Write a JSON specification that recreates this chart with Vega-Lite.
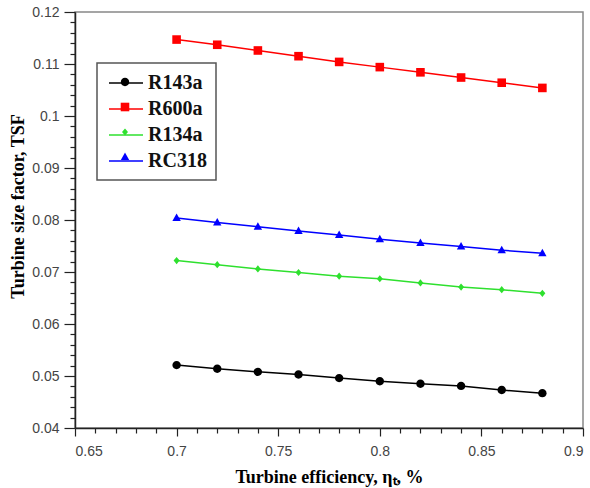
{
  "$schema": "https://vega.github.io/schema/vega-lite/v6.json",
  "width": 508,
  "height": 416,
  "autosize": {"type": "none"},
  "padding": {"left": 75, "top": 12, "right": 7, "bottom": 60},
  "background": "white",
  "config": {
    "view": {"stroke": "#888888", "strokeWidth": 1.5},
    "legend": {"labelFont": "Liberation Serif", "labelFontWeight": "bold", "labelFontSize": 20},
    "axis": {
      "grid": false,
      "domainColor": "#222222",
      "domainWidth": 1.5,
      "tickColor": "#222222",
      "tickWidth": 1.2,
      "labelFont": "Liberation Sans",
      "labelFontSize": 14,
      "labelColor": "#444444",
      "labelOverlap": false,
      "titleFont": "Liberation Serif",
      "titleFontSize": 18,
      "titleFontWeight": "bold",
      "titleColor": "#000000"
    }
  },
  "data": {
    "values": [
      {"eff": 0.70, "tsf": 0.0521, "fluid": "R143a"},
      {"eff": 0.72, "tsf": 0.0514, "fluid": "R143a"},
      {"eff": 0.74, "tsf": 0.0508, "fluid": "R143a"},
      {"eff": 0.76, "tsf": 0.0503, "fluid": "R143a"},
      {"eff": 0.78, "tsf": 0.0496, "fluid": "R143a"},
      {"eff": 0.80, "tsf": 0.0490, "fluid": "R143a"},
      {"eff": 0.82, "tsf": 0.0485, "fluid": "R143a"},
      {"eff": 0.84, "tsf": 0.0481, "fluid": "R143a"},
      {"eff": 0.86, "tsf": 0.0473, "fluid": "R143a"},
      {"eff": 0.88, "tsf": 0.0467, "fluid": "R143a"},
      {"eff": 0.70, "tsf": 0.1147, "fluid": "R600a"},
      {"eff": 0.72, "tsf": 0.1137, "fluid": "R600a"},
      {"eff": 0.74, "tsf": 0.1126, "fluid": "R600a"},
      {"eff": 0.76, "tsf": 0.1115, "fluid": "R600a"},
      {"eff": 0.78, "tsf": 0.1104, "fluid": "R600a"},
      {"eff": 0.80, "tsf": 0.1094, "fluid": "R600a"},
      {"eff": 0.82, "tsf": 0.1084, "fluid": "R600a"},
      {"eff": 0.84, "tsf": 0.1074, "fluid": "R600a"},
      {"eff": 0.86, "tsf": 0.1064, "fluid": "R600a"},
      {"eff": 0.88, "tsf": 0.1054, "fluid": "R600a"},
      {"eff": 0.70, "tsf": 0.0722, "fluid": "R134a"},
      {"eff": 0.72, "tsf": 0.0714, "fluid": "R134a"},
      {"eff": 0.74, "tsf": 0.0706, "fluid": "R134a"},
      {"eff": 0.76, "tsf": 0.0699, "fluid": "R134a"},
      {"eff": 0.78, "tsf": 0.0692, "fluid": "R134a"},
      {"eff": 0.80, "tsf": 0.0687, "fluid": "R134a"},
      {"eff": 0.82, "tsf": 0.0679, "fluid": "R134a"},
      {"eff": 0.84, "tsf": 0.0671, "fluid": "R134a"},
      {"eff": 0.86, "tsf": 0.0666, "fluid": "R134a"},
      {"eff": 0.88, "tsf": 0.0659, "fluid": "R134a"},
      {"eff": 0.70, "tsf": 0.0804, "fluid": "RC318"},
      {"eff": 0.72, "tsf": 0.0795, "fluid": "RC318"},
      {"eff": 0.74, "tsf": 0.0787, "fluid": "RC318"},
      {"eff": 0.76, "tsf": 0.0779, "fluid": "RC318"},
      {"eff": 0.78, "tsf": 0.0771, "fluid": "RC318"},
      {"eff": 0.80, "tsf": 0.0763, "fluid": "RC318"},
      {"eff": 0.82, "tsf": 0.0756, "fluid": "RC318"},
      {"eff": 0.84, "tsf": 0.0749, "fluid": "RC318"},
      {"eff": 0.86, "tsf": 0.0742, "fluid": "RC318"},
      {"eff": 0.88, "tsf": 0.0736, "fluid": "RC318"}
    ]
  },
  "encoding": {
    "x": {
      "field": "eff",
      "type": "quantitative",
      "scale": {"domain": [0.65, 0.9], "nice": false, "zero": false},
      "axis": {
        "title": "Turbine efficiency, ηₜ, %",
        "titleY": 54,
        "titleBaseline": "alphabetic",
        "values": [0.65, 0.66, 0.67, 0.68, 0.69, 0.7, 0.71, 0.72, 0.73, 0.74, 0.75, 0.76, 0.77, 0.78, 0.79, 0.8, 0.81, 0.82, 0.83, 0.84, 0.85, 0.86, 0.87, 0.88, 0.89, 0.9],
        "labelExpr": "abs(datum.value*20 - round(datum.value*20)) < 0.001 ? format(datum.value, '~g') : ''",
        "tickSize": {"condition": {"test": "abs(datum.value*20 - round(datum.value*20)) < 0.001", "value": 8}, "value": 5},
        "labelPadding": 8
      }
    },
    "y": {
      "field": "tsf",
      "type": "quantitative",
      "scale": {"domain": [0.04, 0.12], "nice": false, "zero": false},
      "axis": {
        "title": "Turbine size factor, TSF",
        "titleX": -52,
        "titleY": 194,
        "titleAngle": 270,
        "titleBaseline": "alphabetic",
        "titleAlign": "center",
        "values": [0.04, 0.042, 0.044, 0.046, 0.048, 0.05, 0.052, 0.054, 0.056, 0.058, 0.06, 0.062, 0.064, 0.066, 0.068, 0.07, 0.072, 0.074, 0.076, 0.078, 0.08, 0.082, 0.084, 0.086, 0.088, 0.09, 0.092, 0.094, 0.096, 0.098, 0.1, 0.102, 0.104, 0.106, 0.108, 0.11, 0.112, 0.114, 0.116, 0.118, 0.12],
        "labelExpr": "abs(datum.value*100 - round(datum.value*100)) < 0.001 ? format(datum.value, '~g') : ''",
        "tickSize": {"condition": {"test": "abs(datum.value*100 - round(datum.value*100)) < 0.001", "value": 11}, "value": 5},
        "labelPadding": 5
      }
    }
  },
  "layer": [
    {
      "mark": {"type": "line", "strokeWidth": 1.5},
      "encoding": {
        "color": {
          "field": "fluid",
          "type": "nominal",
          "scale": {"domain": ["R143a", "R600a", "R134a", "RC318"], "range": ["#000000", "#ff0000", "#2ee02e", "#0000ff"]},
          "legend": {
            "title": null,
            "orient": "none",
            "legendX": 22,
            "legendY": 51,
            "padding": 9,
            "rowPadding": 5,
            "symbolType": "M-1.7,0H1.7",
            "symbolSize": 400,
            "symbolOffset": 9,
            "symbolStrokeWidth": 1.5,
            "labelOffset": 11,
            "labelFont": "Liberation Serif",
            "labelFontWeight": "bold",
            "labelFontSize": 20,
            "labelColor": "#111111",
            "strokeColor": "#555555",
            "fillColor": "white",
            "encode": {
              "legend": {"update": {"strokeWidth": {"value": 1.5}}},
              "labels": {"update": {"font": {"value": "Liberation Serif"}, "fontWeight": {"value": "bold"}}}
            }
          }
        }
      }
    },
    {
      "mark": {"type": "point", "filled": true, "opacity": 1, "size": 400},
      "encoding": {
        "color": {
          "field": "fluid",
          "type": "nominal",
          "legend": {
            "title": null,
            "orient": "none",
            "legendX": 22,
            "legendY": 51,
            "padding": 9,
            "rowPadding": 5,
            "symbolSize": 400,
            "symbolOffset": 9,
            "symbolStrokeWidth": 0,
            "symbolOpacity": 1,
            "labelOffset": 11,
            "labelFontSize": 20,
            "labelExpr": "''"
          }
        },
        "shape": {
          "field": "fluid",
          "type": "nominal",
          "scale": {
            "domain": ["R143a", "R600a", "R134a", "RC318"],
            "range": [
              "M0.42,0A0.42,0.42,0,1,1,-0.42,0A0.42,0.42,0,1,1,0.42,0Z",
              "M-0.43,-0.43H0.43V0.43H-0.43Z",
              "M0,-0.36L0.3,0L0,0.36L-0.3,0Z",
              "M0,-0.45L0.42,0.3H-0.42Z"
            ]
          },
          "legend": {
            "title": null,
            "orient": "none",
            "legendX": 22,
            "legendY": 51,
            "padding": 9,
            "rowPadding": 5,
            "symbolSize": 400,
            "symbolOffset": 9,
            "symbolStrokeWidth": 0,
            "labelOffset": 11,
            "labelFontSize": 20,
            "labelExpr": "''"
          }
        }
      }
    }
  ],
  "resolve": {"legend": {"color": "independent", "shape": "independent"}}
}
